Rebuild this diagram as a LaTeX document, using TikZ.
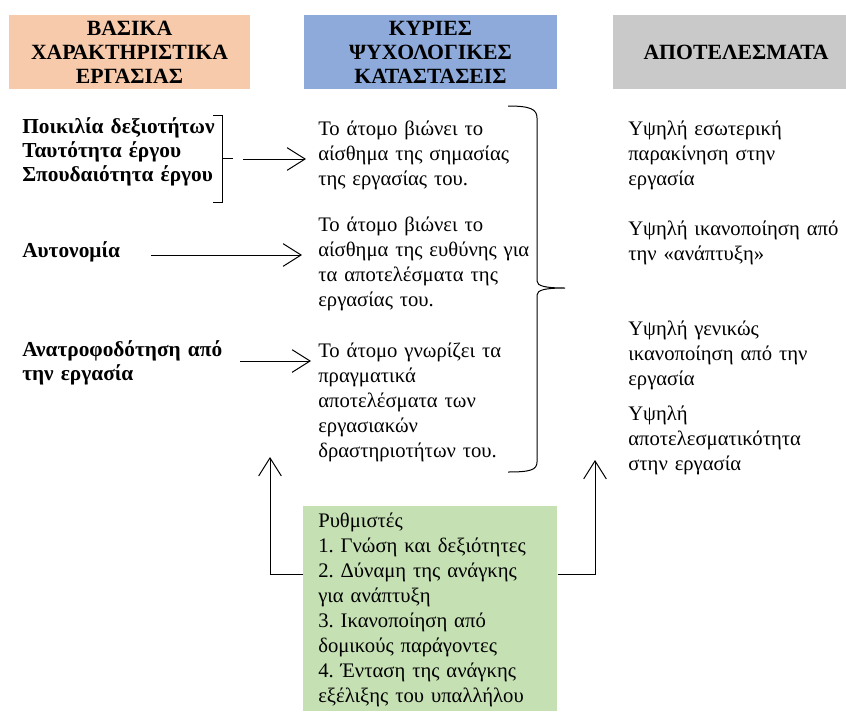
\documentclass[tikz,border=0pt]{standalone}
\usepackage{fontspec}
\setmainfont{Liberation Serif}
\frenchspacing
\usetikzlibrary{arrows.meta}
\definecolor{peach}{HTML}{F7CAAC}
\definecolor{sky}{HTML}{8EAADB}
\definecolor{greyhd}{HTML}{C9C9C9}
\definecolor{sage}{HTML}{C5E0B3}
\begin{document}
\begin{tikzpicture}[x=0.75pt,y=-0.75pt,
  body/.style={font=\fontsize{15.5}{18.75}\selectfont, inner sep=0pt, anchor=base west, align=left, text width=200pt},
  lead/.style={body, font=\fontsize{16}{18}\selectfont\bfseries},
  head/.style={font=\fontsize{16.3}{18}\selectfont\bfseries, align=center, inner sep=0pt, minimum height=55.5pt},
  conn/.style={line width=0.75pt, -{Straight Barb[length=13.5pt,width=17pt]}},
  plain/.style={line width=0.75pt}]
\useasboundingbox (0,0) rectangle (846,711);

% column headers
\node[head, fill=peach, minimum width=180.75pt] (h1) at (129.5,52) {ΒΑΣΙΚΑ\\ΧΑΡΑΚΤΗΡΙΣΤΙΚΑ\\ΕΡΓΑΣΙΑΣ};
\node[head, fill=sky, minimum width=189.75pt] (h2) at (430.5,52) {ΚΥΡΙΕΣ\\ΨΥΧΟΛΟΓΙΚΕΣ\\ΚΑΤΑΣΤΑΣΕΙΣ};
\node[head, fill=greyhd, minimum width=174.75pt] (h3) at (729.5,52) {};
\node[head] (h3t) at (736,52) {ΑΠΟΤΕΛΕΣΜΑΤΑ};

% job characteristics
\node[lead] (k1) at (22,133) {Ποικιλία δεξιοτήτων\\Ταυτότητα έργου\\Σπουδαιότητα έργου};
\node[lead] (k2) at (22,257) {Αυτονομία};
\node[lead] (k3) at (22,356) {Ανατροφοδότηση από\\την εργασία};

% psychological states
\node[body] (m1) at (318,135) {Το άτομο βιώνει το\\αίσθημα της σημασίας\\της εργασίας του.};
\node[body] (m2) at (318,231) {Το άτομο βιώνει το\\αίσθημα της ευθύνης για\\τα αποτελέσματα της\\εργασίας του.};
\node[body] (m3) at (318,357) {Το άτομο γνωρίζει τα\\πραγματικά\\αποτελέσματα των\\εργασιακών\\δραστηριοτήτων του.};

% outcomes
\node[body] (r1) at (628,135) {Υψηλή εσωτερική\\παρακίνηση στην\\εργασία};
\node[body] (r2) at (628,235) {Υψηλή ικανοποίηση από\\την «ανάπτυξη»};
\node[body] (r3) at (628,335) {Υψηλή γενικώς\\ικανοποίηση από την\\εργασία};
\node[body] (r4) at (628,420) {Υψηλή\\αποτελεσματικότητα\\στην εργασία};

% moderators
\node[fill=sage, minimum width=190.5pt, minimum height=153.75pt, inner sep=0pt, anchor=north west] (reg) at (303,506) {};
\node[body] (regt) at (318,527) {Ρυθμιστές\\1. Γνώση και δεξιότητες\\2. Δύναμη της ανάγκης\\για ανάπτυξη\\3. Ικανοποίηση από\\δομικούς παράγοντες\\4. Ένταση της ανάγκης\\εξέλιξης του υπαλλήλου};

% bracket grouping the first three characteristics
\draw[plain] (213,115) -- (222,115) -- (222,202) -- (213,202);
\coordinate (tk) at (233,158);
\draw[plain] (222,158) -- (tk);

% arrows from characteristics to states
\coordinate (s1) at (243,159);
\coordinate (e1) at (306,159);
\draw[conn] (s1) -- (e1);
\coordinate (s2) at (151,255);
\coordinate (e2) at (302,255);
\draw[conn] (s2) -- (e2);
\coordinate (s3) at (240,361);
\coordinate (e3) at (311,361);
\draw[conn] (s3) -- (e3);

% large brace gathering the three states
\draw[plain] (508,106) .. controls (530,106) and (537,109) .. (537,118)
  -- (537,281) .. controls (537,286) and (545,288) .. (565,288)
  .. controls (545,288) and (537,290) .. (537,295)
  -- (537,462) .. controls (537,470) and (530,472) .. (508,472);

% moderator feedback lines
\coordinate (jl) at (270,574);
\coordinate (fl) at (270,457);
\draw[conn] (jl -| reg.west) -- (jl) -- (fl);
\coordinate (jr) at (595,574);
\coordinate (fr) at (595,460);
\draw[conn] (jr -| reg.east) -- (jr) -- (fr);
\end{tikzpicture}
\end{document}
